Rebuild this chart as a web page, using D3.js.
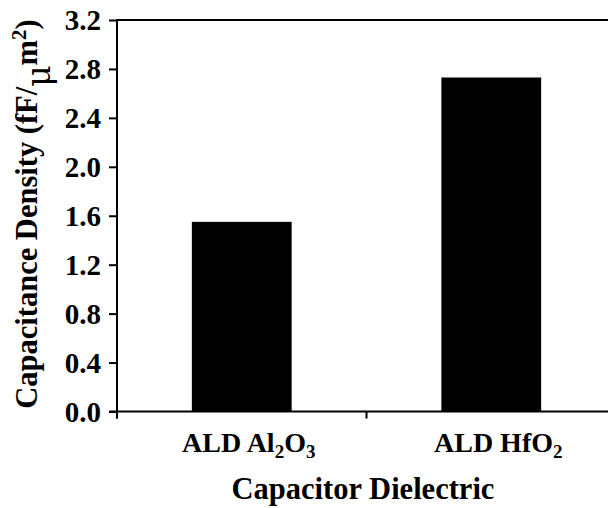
<!DOCTYPE html>
<html><head><meta charset="utf-8">
<script src="https://cdn.jsdelivr.net/npm/d3@7/dist/d3.min.js"></script>
<style>body{margin:0;background:#fff}svg{display:block}text{font-family:"Liberation Serif","Times New Roman",serif;font-weight:bold;fill:#000}</style>
</head><body><svg id="c" width="608" height="508"></svg>
<script>
const categories = [["ALD Al", "2", "O", "3"], ["ALD HfO", "2"]];
const categoryKeys = ["ALD Al2O3", "ALD HfO2"];
const values = [1.55, 2.73];
const yTicks = [0.0, 0.4, 0.8, 1.2, 1.6, 2.0, 2.4, 2.8, 3.2];

const svg = d3.select("#c");
const L = 117, R = 616, T = 20, B = 411.5;
const x = d3.scaleBand().domain(categoryKeys).range([L, R]).paddingInner(0.6).paddingOuter(0.3);
const y = d3.scaleLinear().domain([0, 3.2]).range([B, T]);

// bars
svg.selectAll("rect.bar").data(values).enter().append("rect")
  .attr("x", (d,i) => x(categoryKeys[i]))
  .attr("width", x.bandwidth())
  .attr("y", d => y(d))
  .attr("height", d => y(0) - y(d))
  .attr("fill", "#000");

// y axis
const yAxis = d3.axisLeft(y).tickValues(yTicks).tickSize(8).tickFormat(d3.format(".1f")).tickPadding(8);
const gy = svg.append("g").attr("transform", `translate(${L},0)`).call(yAxis);
gy.select(".domain").remove();
gy.selectAll(".tick line").attr("stroke", "#000").attr("stroke-width", 2);
gy.selectAll(".tick text").attr("font-size", 29).attr("font-family", "Liberation Serif").attr("font-weight", "bold").attr("fill", "#000").attr("dy", "0.34em");
svg.append("line").attr("x1", L).attr("x2", L).attr("y1", T - 1).attr("y2", B + 7).attr("stroke", "#000").attr("stroke-width", 2);
// top frame
svg.append("line").attr("x1", L).attr("x2", 608).attr("y1", T).attr("y2", T).attr("stroke", "#000").attr("stroke-width", 2);
// x axis line
svg.append("line").attr("x1", L - 8).attr("x2", 608).attr("y1", B).attr("y2", B).attr("stroke", "#000").attr("stroke-width", 2);
// x boundary ticks
const step = x.step();
[L, L + step].forEach(t => {
  svg.append("line").attr("x1", t).attr("x2", t).attr("y1", B).attr("y2", B + 7).attr("stroke", "#000").attr("stroke-width", 2);
});

// x labels
categories.forEach((parts, i) => {
  const cx = x(categoryKeys[i]) + x.bandwidth() / 2 + 7;
  const t = svg.append("text").attr("x", cx).attr("y", 452).attr("text-anchor", "middle").attr("font-size", 28);
  parts.forEach((p, j) => {
    const sub = j % 2 === 1;
    const ts = t.append("tspan").text(p);
    if (sub) ts.attr("font-size", 19).attr("dy", 6);
    else if (j > 0) ts.attr("dy", -6);
  });
});

svg.append("text").attr("x", 363).attr("y", 499).attr("text-anchor", "middle").attr("font-size", 30.5).text("Capacitor Dielectric");

// y label
const yl = svg.append("text").attr("transform", "translate(37,214) rotate(-90)").attr("text-anchor", "middle").attr("font-size", 30.5);
yl.append("tspan").text("Capacitance Density (fF/");
yl.append("tspan").text("μ").attr("dy", 13).attr("font-weight", "normal").attr("font-size", 33).attr("font-family", "DejaVu Serif");
yl.append("tspan").text("m").attr("dy", -13);
yl.append("tspan").text("2").attr("dy", -11).attr("font-size", 21);
yl.append("tspan").text(")").attr("dy", 11);
</script></body></html>
